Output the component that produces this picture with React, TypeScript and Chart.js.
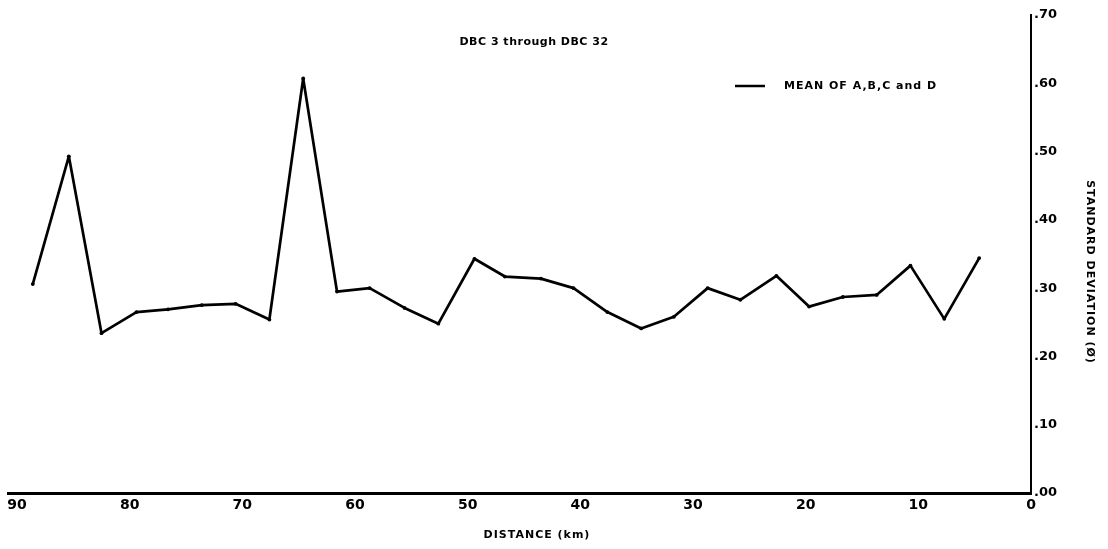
import React, { useEffect, useRef } from "react";
import { Chart, registerables } from "chart.js";

Chart.register(...registerables);

// Station distances (km) for DBC 3 .. DBC 32, and the mean standard deviation (phi) at each
const distanceKm = [
  88.6, 85.4, 82.5, 79.4, 76.6, 73.6, 70.6, 67.6, 64.6, 61.6, 58.7, 55.6, 52.6, 49.4, 46.7,
  43.5, 40.6, 37.6, 34.6, 31.7, 28.7, 25.8, 22.6, 19.7, 16.7, 13.7, 10.7, 7.7, 4.6,
];
const meanStdDev = [
  0.306, 0.493, 0.234, 0.265, 0.269, 0.275, 0.277, 0.254, 0.607, 0.295, 0.3, 0.271, 0.248, 0.343,
  0.317, 0.314, 0.3, 0.265, 0.241, 0.258, 0.3, 0.283, 0.318, 0.273, 0.287, 0.29, 0.333, 0.255,
  0.344,
];

const distanceTicks = [90, 80, 70, 60, 50, 40, 30, 20, 10, 0];
const deviationTicks = [0, 0.1, 0.2, 0.3, 0.4, 0.5, 0.6, 0.7];

const chartTitle = "DBC 3 through DBC 32";
const seriesLabel = "MEAN OF A,B,C and D";
const xAxisTitle = "DISTANCE (km)";
const yAxisTitle = "STANDARD DEVIATION (\u00D8)";

const FONT = "'DejaVu Sans', sans-serif";

const textPlugin = {
  id: "chartTexts",
  afterDraw(chart: any) {
    const ctx = chart.ctx as CanvasRenderingContext2D;
    ctx.save();
    ctx.fillStyle = "#000";
    ctx.strokeStyle = "#000";
    ctx.textBaseline = "middle";

    // title
    ctx.font = `bold 11px ${FONT}`;
    (ctx as any).letterSpacing = "0.5px";
    ctx.textAlign = "center";
    ctx.fillText(chartTitle, 534, 42);

    // legend
    ctx.lineWidth = 2.5;
    ctx.beginPath();
    ctx.moveTo(735, 86);
    ctx.lineTo(765, 86);
    ctx.stroke();
    ctx.textAlign = "left";
    ctx.font = `bold 11px ${FONT}`;
    (ctx as any).letterSpacing = "1px";
    ctx.fillText(seriesLabel, 784, 86);

    // x axis title
    ctx.textAlign = "center";
    ctx.fillText(xAxisTitle, 537, 535);

    // y axis title, reading downward
    ctx.translate(1090, 272);
    ctx.rotate(Math.PI / 2);
    ctx.fillText(yAxisTitle, 0, 0);
    ctx.restore();
  },
};

export default function App() {
  const canvasRef = useRef<HTMLCanvasElement | null>(null);

  useEffect(() => {
    if (!canvasRef.current) return;
    const chart = new Chart(canvasRef.current, {
      type: "line",
      data: {
        datasets: [
          {
            label: seriesLabel,
            data: distanceKm.map((d, i) => ({ x: d, y: meanStdDev[i] })),
            borderColor: "#000",
            borderWidth: 2.7,
            borderJoinStyle: "round",
            pointRadius: 1.9,
            pointBackgroundColor: "#000",
            pointBorderWidth: 0,
            tension: 0,
          },
        ],
      },
      options: {
        responsive: false,
        animation: false,
        layout: { padding: { left: 8, top: 15, right: 0, bottom: 0 } },
        plugins: {
          legend: { display: false },
          title: { display: false },
          tooltip: { enabled: false },
        },
        scales: {
          x: {
            type: "linear",
            reverse: true,
            min: 0,
            max: 90.8,
            grid: { display: false, drawTicks: false },
            border: { display: true, color: "#000", width: 3 },
            afterBuildTicks: (scale: any) => {
              scale.ticks = distanceTicks.map((v) => ({ value: v }));
            },
            ticks: {
              color: "#000",
              padding: 4,
              maxRotation: 0,
              autoSkip: false,
              font: { family: FONT, size: 14, weight: "bold" },
              callback: (v: any) => String(v),
            },
            afterFit: (scale: any) => {
              scale.height = 56;
            },
          },
          y: {
            type: "linear",
            position: "right",
            min: 0,
            max: 0.7,
            grid: { display: false, drawTicks: false },
            border: { display: true, color: "#000", width: 2 },
            afterBuildTicks: (scale: any) => {
              scale.ticks = deviationTicks.map((v) => ({ value: v }));
            },
            ticks: {
              color: "#000",
              padding: 3,
              autoSkip: false,
              font: { family: FONT, size: 13, weight: "bold" },
              callback: (v: any) => Number(v).toFixed(2).replace(/^0/, ""),
            },
            afterFit: (scale: any) => {
              scale.width = 77;
            },
          },
        },
      },
      plugins: [textPlugin],
    });
    return () => chart.destroy();
  }, []);

  return (
    <div style={{ position: "absolute", left: 0, top: 0, width: 1108, height: 549, background: "#fff" }}>
      <canvas ref={canvasRef} width={1108} height={549} style={{ display: "block" }} />
    </div>
  );
}
